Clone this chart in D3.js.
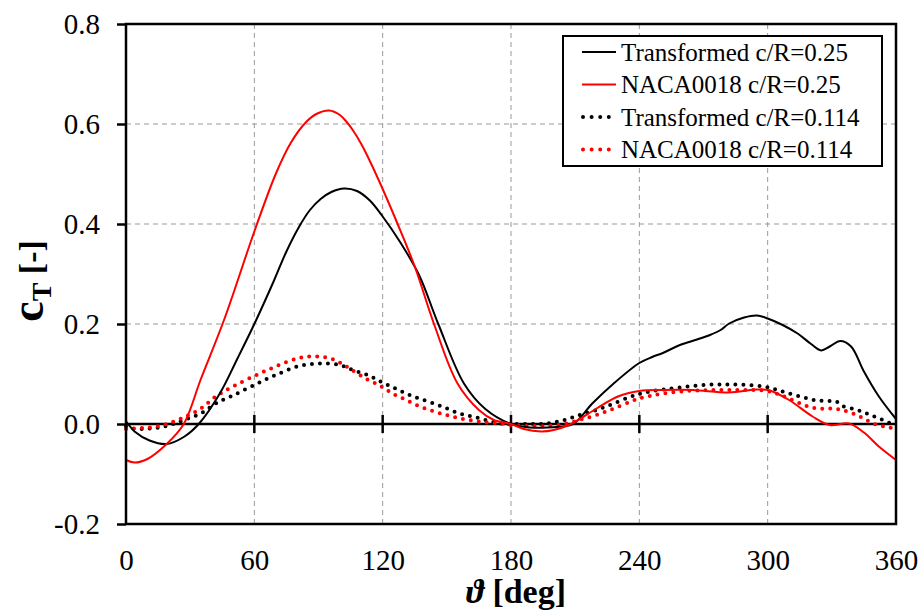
<!DOCTYPE html>
<html>
<head>
<meta charset="utf-8">
<script src="https://cdn.jsdelivr.net/npm/d3@7"></script>
<style>
  body { margin: 0; background: #fff; }
  svg { display: block; font-family: "Liberation Serif", "Times New Roman", serif; }
</style>
</head>
<body>
<svg id="svg" width="922" height="610"></svg>
<script>
// values
var xTicks = [0, 60, 120, 180, 240, 300, 360];
var yTicks = [-0.2, 0.0, 0.2, 0.4, 0.6, 0.8];

var tr025Theta = [0, 1, 4, 11, 19, 27, 34, 44, 52, 60, 69, 75, 81, 86, 91, 96, 102, 108, 114, 120, 128, 137, 146, 158, 168, 180, 189, 197, 209, 218, 228, 240, 246, 251, 259, 267, 273, 278, 282, 289, 295, 300, 307, 314, 320, 325, 329, 334, 339, 345, 352, 360];
var tr025Val   = [0.005, 0.0, -0.015, -0.033, -0.04, -0.026, 0.0, 0.062, 0.13, 0.2, 0.285, 0.345, 0.395, 0.428, 0.45, 0.464, 0.471, 0.466, 0.447, 0.415, 0.365, 0.298, 0.2, 0.081, 0.03, 0.0, -0.007, -0.007, 0.0, 0.041, 0.081, 0.122, 0.134, 0.142, 0.158, 0.169, 0.178, 0.188, 0.201, 0.213, 0.217, 0.211, 0.198, 0.181, 0.161, 0.147, 0.155, 0.166, 0.155, 0.105, 0.055, 0.01];

var naca025Theta = [0, 4, 10, 19, 27, 35, 46, 60, 70, 77, 84, 89, 95, 100, 103, 106, 110, 114, 120, 127, 135, 144, 155, 165, 172, 180, 186, 194, 200, 208, 220, 230, 240, 251, 265, 282, 295, 301, 310, 321, 329, 338, 345, 352, 360];
var naca025Val   = [-0.072, -0.077, -0.07, -0.04, 0.0, 0.09, 0.21, 0.385, 0.5, 0.562, 0.603, 0.62, 0.627, 0.618, 0.605, 0.588, 0.56, 0.526, 0.47, 0.4, 0.315, 0.2, 0.081, 0.028, 0.008, 0.0, -0.01, -0.015, -0.012, 0.0, 0.031, 0.055, 0.066, 0.068, 0.068, 0.063, 0.069, 0.067, 0.048, 0.015, -0.002, 0.001, -0.017, -0.045, -0.072];

var tr0114Theta = [0, 3, 11, 19, 27, 35, 42, 50, 60, 70, 81, 91, 100, 106, 113, 119, 125, 131, 137, 144, 150, 156, 162, 169, 175, 180, 189, 197, 205, 212, 220, 228, 236, 240, 245, 251, 259, 267, 275, 282, 290, 298, 304, 310, 317, 323, 329, 332, 335, 342, 348, 354, 360];
var tr0114Val   = [-0.005, -0.009, -0.009, -0.004, 0.008, 0.021, 0.041, 0.057, 0.078, 0.098, 0.116, 0.121, 0.118, 0.108, 0.098, 0.085, 0.073, 0.061, 0.051, 0.041, 0.031, 0.021, 0.015, 0.007, 0.001, 0.0, 0.0, 0.001, 0.008, 0.018, 0.028, 0.041, 0.055, 0.06, 0.065, 0.069, 0.073, 0.077, 0.079, 0.079, 0.078, 0.075, 0.069, 0.061, 0.053, 0.047, 0.046, 0.045, 0.036, 0.028, 0.018, 0.008, -0.004];

var naca0114Theta = [0, 3, 11, 19, 27, 35, 42, 50, 60, 70, 81, 90, 97, 103, 112, 119, 125, 131, 137, 144, 150, 156, 162, 169, 175, 180, 189, 197, 205, 212, 220, 228, 236, 240, 245, 251, 259, 267, 275, 282, 290, 298, 304, 310, 317, 323, 329, 335, 343, 350, 357, 360];
var naca0114Val   = [-0.01, -0.009, -0.007, 0.0, 0.013, 0.031, 0.055, 0.075, 0.096, 0.115, 0.132, 0.135, 0.129, 0.115, 0.091, 0.076, 0.06, 0.048, 0.036, 0.025, 0.018, 0.011, 0.007, 0.003, 0.001, -0.002, -0.004, -0.004, 0.0, 0.008, 0.018, 0.031, 0.045, 0.051, 0.056, 0.061, 0.065, 0.067, 0.068, 0.068, 0.068, 0.067, 0.061, 0.051, 0.038, 0.031, 0.031, 0.028, 0.015, 0.0, -0.007, -0.01];

var seriesNames = ['Transformed c/R=0.25', 'NACA0018 c/R=0.25', 'Transformed c/R=0.114', 'NACA0018 c/R=0.114'];
var seriesColors = ['#000', '#f00', '#000', '#f00'];
var seriesDotted = [false, false, true, true];

var CHART = (function() {
  let chart = {};
  let svg = d3.select('svg');

  let m = { left: 126, top: 24, width: 770, height: 500 };

  let x = d3.scaleLinear().domain([0, 360]).range([m.left, m.left + m.width]);
  let y = d3.scaleLinear().domain([-0.2, 0.8]).range([m.top + m.height, m.top]);

  let line = d3.line()
    .x(function(d) { return x(d[0]); })
    .y(function(d) { return y(d[1]); })
    .curve(d3.curveCatmullRom.alpha(0.5));

  chart.draw = function() {
    let grid = svg.append('g');
    // dashed grid
    grid.selectAll('.gx').data(xTicks.slice(1, -1)).enter().append('line')
      .attr('x1', function(d) { return x(d); }).attr('x2', function(d) { return x(d); })
      .attr('y1', y(0.8)).attr('y2', y(-0.2))
      .attr('stroke', '#999').attr('stroke-width', 1).attr('stroke-dasharray', '5 4');
    grid.selectAll('.gy').data([0.2, 0.4, 0.6]).enter().append('line')
      .attr('x1', x(0)).attr('x2', x(360))
      .attr('y1', function(d) { return y(d); }).attr('y2', function(d) { return y(d); })
      .attr('stroke', '#999').attr('stroke-width', 1).attr('stroke-dasharray', '5 4');

    // zero line with crossing ticks
    svg.append('line')
      .attr('x1', x(0)).attr('x2', x(360)).attr('y1', y(0)).attr('y2', y(0))
      .attr('stroke', '#000').attr('stroke-width', 2.5);
    svg.selectAll('.zt').data(xTicks.slice(1, -1)).enter().append('line')
      .attr('x1', function(d) { return x(d); }).attr('x2', function(d) { return x(d); })
      .attr('y1', y(0) - 9).attr('y2', y(0) + 9)
      .attr('stroke', '#000').attr('stroke-width', 2.5);

    // axes
    let fmt = d3.format('.1f');
    let yAxis = d3.axisLeft(y).tickValues(yTicks).tickSize(9).tickPadding(17)
      .tickFormat(function(d) { return fmt(d).replace('\u2212', '-'); });
    let gy = svg.append('g').attr('transform', 'translate(' + m.left + ',0)').call(yAxis);
    gy.select('.domain').remove();
    gy.selectAll('line').attr('stroke-width', 2.5);
    gy.selectAll('text').attr('font-size', 29).attr('font-family', 'Liberation Serif').attr('fill', '#000');

    let xAxis = d3.axisBottom(x).tickValues(xTicks).tickSize(0).tickPadding(25);
    let gx = svg.append('g').attr('transform', 'translate(0,' + (m.top + m.height) + ')').call(xAxis);
    gx.select('.domain').remove();
    gx.selectAll('text').attr('font-size', 29).attr('font-family', 'Liberation Serif').attr('fill', '#000');

    // curves
    let data = [
      d3.zip(tr025Theta, tr025Val),
      d3.zip(naca025Theta, naca025Val),
      d3.zip(tr0114Theta, tr0114Val),
      d3.zip(naca0114Theta, naca0114Val)
    ];
    let order = [2, 3, 0, 1];
    svg.append('g').selectAll('path').data(order).enter().append('path')
      .attr('d', function(i) { return line(data[i]); })
      .attr('fill', 'none')
      .attr('stroke', function(i) { return seriesColors[i]; })
      .attr('stroke-width', function(i) { return seriesDotted[i] ? 4 : 2; })
      .attr('stroke-linecap', 'round')
      .attr('stroke-dasharray', function(i) { return seriesDotted[i] ? '0 8' : null; });

    // frame
    svg.append('rect')
      .attr('x', m.left).attr('y', m.top).attr('width', m.width).attr('height', m.height)
      .attr('fill', 'none').attr('stroke', '#000').attr('stroke-width', 2.5);

    // legend
    let lg = svg.append('g');
    lg.append('rect')
      .attr('x', 563).attr('y', 36).attr('width', 319).attr('height', 130)
      .attr('fill', '#fff').attr('stroke', '#000').attr('stroke-width', 2);
    let rows = lg.selectAll('.row').data(seriesNames).enter().append('g')
      .attr('transform', function(d, i) { return 'translate(0,' + (52 + i * 32.5) + ')'; });
    rows.append('line')
      .attr('x1', function(d, i) { return seriesDotted[i] ? 583 : 582; })
      .attr('x2', function(d, i) { return seriesDotted[i] ? 609 : 616; })
      .attr('y1', 0).attr('y2', 0)
      .attr('stroke', function(d, i) { return seriesColors[i]; })
      .attr('stroke-width', function(d, i) { return seriesDotted[i] ? 4 : 2; })
      .attr('stroke-linecap', function(d, i) { return seriesDotted[i] ? 'round' : 'butt'; })
      .attr('stroke-dasharray', function(d, i) { return seriesDotted[i] ? '0 8.6' : null; });
    rows.append('text')
      .attr('x', 621).attr('y', 8.5)
      .attr('font-size', 25).attr('fill', '#000')
      .text(function(d) { return d; });

    // axis titles
    let yt = svg.append('text')
      .attr('transform', 'translate(43,281) rotate(-90)')
      .attr('text-anchor', 'middle').attr('font-weight', 'bold').attr('fill', '#000');
    yt.append('tspan').attr('font-size', 46).text('c');
    yt.append('tspan').attr('font-size', 28).attr('dy', 8).text('T');
    yt.append('tspan').attr('font-size', 34).attr('dy', -8).text('\u00a0[-]');

    let xt = svg.append('text')
      .attr('x', 516).attr('y', 603)
      .attr('text-anchor', 'middle').attr('font-weight', 'bold').attr('font-size', 34).attr('fill', '#000');
    xt.append('tspan').attr('font-style', 'italic').text('\u03d1');
    xt.append('tspan').text(' [deg]');
  };

  return chart;
})();

CHART.draw();
</script>
</body>
</html>
